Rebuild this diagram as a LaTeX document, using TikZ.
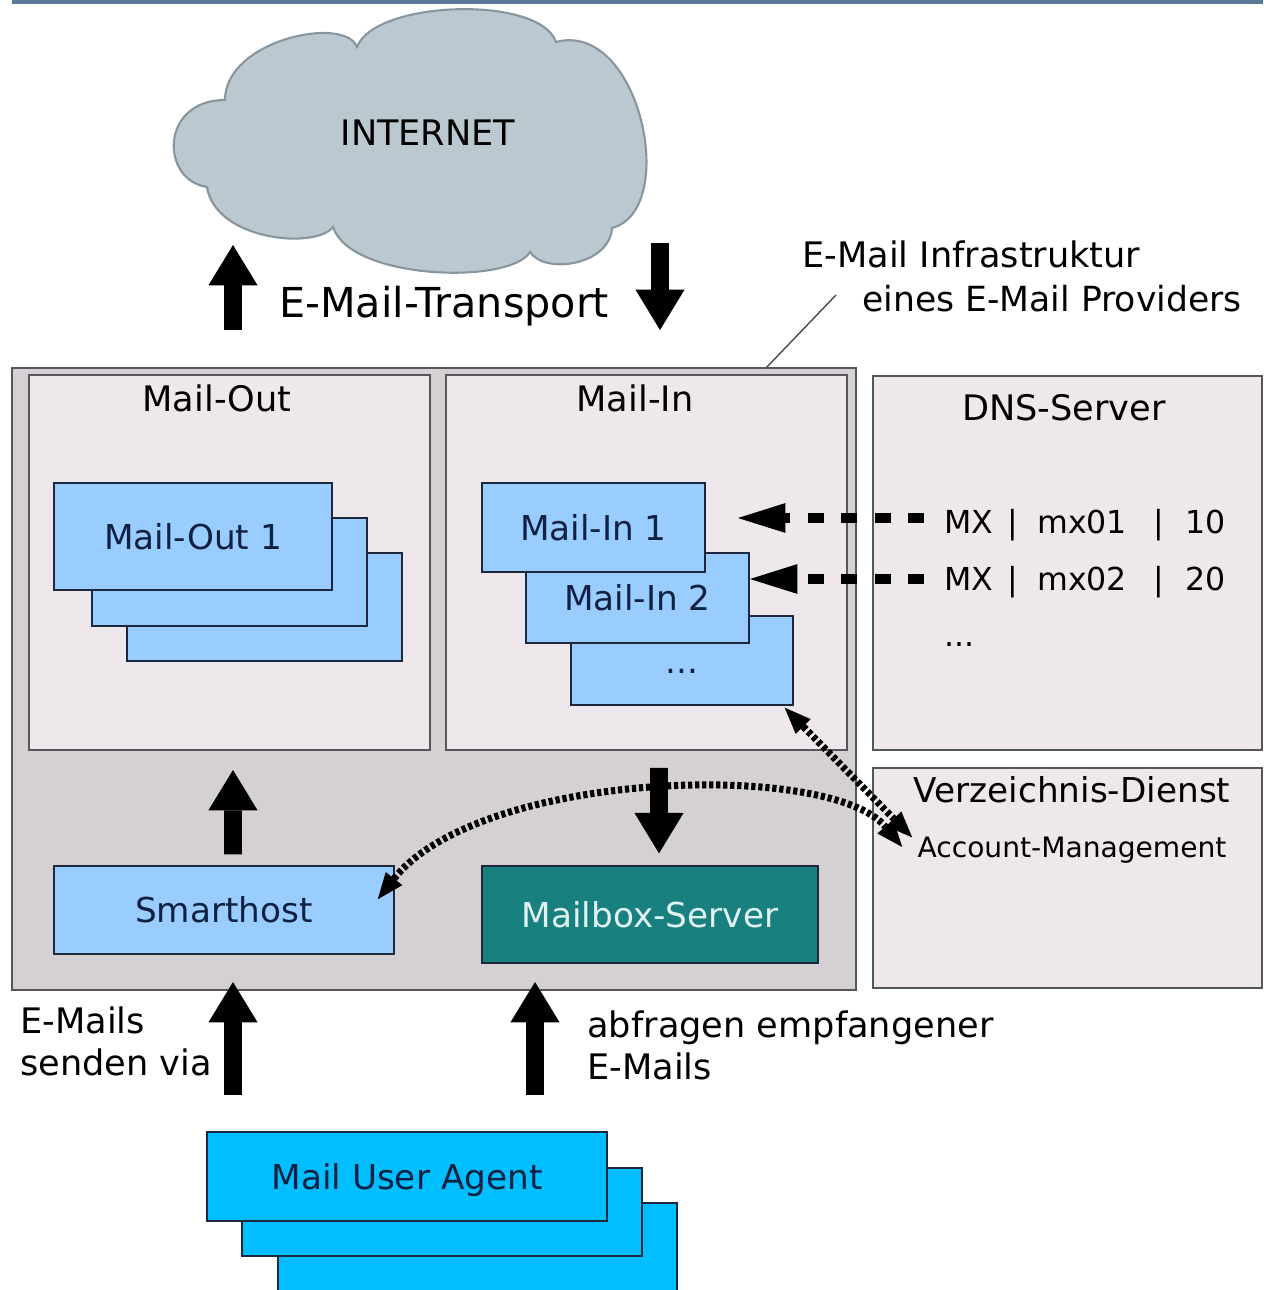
\documentclass[tikz,border=0pt]{standalone}
\usepackage{fontspec}
\setmainfont{DejaVu Sans}
\usetikzlibrary{arrows.meta}
\newlength{\px}\setlength{\px}{0.02cm}
\newcommand{\fsz}[1]{\fontsize{#1}{#1}\selectfont}
\definecolor{topbar}{RGB}{88,121,152}
\definecolor{cloudfill}{RGB}{188,200,207}
\definecolor{cloudline}{RGB}{135,150,158}
\definecolor{outergrey}{RGB}{212,208,212}
\definecolor{panelpink}{RGB}{238,231,236}
\definecolor{panelline}{RGB}{85,85,90}
\definecolor{srvblue}{RGB}{153,204,255}
\definecolor{muablue}{RGB}{0,190,255}
\definecolor{teal}{RGB}{25,128,128}
\definecolor{navytext}{RGB}{16,32,64}
\definecolor{boxline}{RGB}{30,40,60}
\begin{document}
\begin{tikzpicture}[x=0.02cm,y=-0.02cm,
  outerbox/.style={draw=panelline,line width=1.1pt,fill=outergrey,inner sep=0pt},
  panel/.style={draw=panelline,line width=1.1pt,fill=panelpink,inner sep=0pt},
  server/.style={draw=boxline,line width=0.8pt,fill=srvblue,text=navytext,inner sep=0pt,
     font=\fsz{19.5pt},text height=25\px,text depth=0pt},
  muabox/.style={server,fill=muablue},
  txt/.style={inner sep=0pt,font=\fsz{20pt},text=black},
  blockarrow/.style={line width=10pt,-{Triangle[width=28pt,length=23pt,line width=0pt 0 0]}},
  mxarrow/.style={line width=5.7pt,dash pattern=on 9pt off 10pt,
     -{Triangle[width=17pt,length=27pt,line width=0pt 0 0]}},
  dotconn/.style={line width=4pt,dash pattern=on 2.4pt off 1.6pt,
     {Triangle[width=12pt,length=15pt,line width=0pt 0 0]}-{Triangle[width=12pt,length=15pt,line width=0pt 0 0]}}
]
\useasboundingbox (0,0) rectangle (1263,1290);
% top bar
\fill[topbar] (12,0) rectangle (1263,4);
% cloud
\path[fill=cloudfill,draw=cloudline,line width=1.2pt]
  (225,100) .. controls (225,40) and (345,15) .. (357,47)
  .. controls (375,0) and (540,-5) .. (556,42)
  .. controls (640,20) and (680,210) .. (612,228)
  .. controls (610,265) and (545,275) .. (530,252)
  .. controls (510,285) and (350,280) .. (333,227)
  .. controls (315,250) and (215,240) .. (207,187)
  .. controls (160,180) and (160,100) .. (225,100) -- cycle;
\node[txt] (inet) at (428,133) {INTERNET};
% transport
\node[txt,font=\fsz{23.5pt},anchor=base west] (transport) at (279,318) {E-Mail-Transport};
\coordinate (tupfrom) at (233,330);
\coordinate (tupto) at (233,245);
\coordinate (tdnfrom) at (660,243);
\coordinate (tdnto) at (660,330);
\draw[blockarrow] (tupfrom) -- (tupto);
\draw[blockarrow] (tdnfrom) -- (tdnto);
% infrastructure label
\node[txt,anchor=base west] (infra1) at (802,268) {E-Mail Infrastruktur};
\node[txt,font=\fsz{19.7pt},anchor=base west] (infra2) at (862,312) {eines E-Mail Providers};
% outer box
\node[outerbox,minimum width=844\px,minimum height=622\px] (infra) at (434,679) {};
\coordinate (leadend) at (766,368);
\draw[black!70,line width=0.8pt] ([shift={(-26,-17)}]infra2.base west) -- (leadend);
% panels
\node[panel,minimum width=401\px,minimum height=375\px] (mailout) at (229.5,562.5) {};
\node[panel,minimum width=401\px,minimum height=375\px] (mailin) at (646.5,562.5) {};
\node[panel,minimum width=389\px,minimum height=374\px] (dns) at (1067.5,563) {};
\node[panel,minimum width=389\px,minimum height=220\px] (verz) at (1067.5,878) {};
\node[txt] (mailouthd) at (217,398) {Mail-Out};
\node[txt] (mailinhd) at (635,398) {Mail-In};
\node[txt] (dnshd) at (1064,408) {DNS-Server};
\node[txt,font=\fsz{19.5pt}] (verzhd) at (1072,790) {Verzeichnis-Dienst};
\node[txt,font=\fsz{16pt}] (acct) at (1072,850) {Account-Management};
% mail-out stack
\node[server,minimum width=275\px,minimum height=108\px] (mo3) at (264.5,607) {};
\node[server,minimum width=275\px,minimum height=108\px] (mo2) at (229.5,572) {};
\node[server,minimum width=278\px,minimum height=107\px] (mo1) at (193,536.5) {Mail-Out 1};
% mail-in stack
\node[server,minimum width=222\px,minimum height=89\px] (mi3) at (682,660.5) {...};
\node[server,minimum width=223\px,minimum height=90\px] (mi2) at (637.5,598) {Mail-In 2};
\node[server,minimum width=223\px,minimum height=89\px] (mi1) at (593.5,527.5) {Mail-In 1};
% smarthost and mailbox
\node[server,minimum width=340\px,minimum height=88\px] (smart) at (224,910) {Smarthost};
\node[server,fill=teal,text={rgb,255:red,225;green,242;blue,242},minimum width=336\px,minimum height=97\px] (mbox) at (650,914.5) {Mailbox-Server};
% inner arrows
\draw[blockarrow] ([shift={(9,-11)}]smart.north) -- ([shift={(3.5,19)}]mailout.south);
\draw[blockarrow] ([shift={(12.5,17)}]mailin.south) -- ([shift={(9,-12)}]mbox.north);
% DNS text
\node[txt,font=\fsz{18pt},anchor=base west] (mx1) at (944,533)
  {\makebox[63\px][l]{MX}\makebox[30\px][l]{|}\makebox[116\px][l]{mx01}\makebox[32\px][l]{|}10};
\node[txt,font=\fsz{18pt},anchor=base west] (mx2) at (944,590)
  {\makebox[63\px][l]{MX}\makebox[30\px][l]{|}\makebox[116\px][l]{mx02}\makebox[32\px][l]{|}20};
\node[txt,font=\fsz{18pt},anchor=base west] (mxmore) at (944,646) {...};
\coordinate (mxtip1) at (738,518);
\coordinate (mxtip2) at (750,579);
\draw[mxarrow] ([shift={(-20,-15)}]mx1.base west) -- (mxtip1);
\draw[mxarrow] ([shift={(-20,-11)}]mx2.base west) -- (mxtip2);
% dotted connectors
\draw[dotconn] ([shift={(-17,34)}]smart.north east) .. controls (480,770) and (830,760) .. ([shift={(-15,-3)}]acct.west);
\draw[dotconn] ([shift={(-9,2)}]mi3.south east) -- ([shift={(-5,1)}]acct.north west);
% bottom
\node[txt,anchor=base west] (send1) at (20,1033) {E-Mails};
\node[txt,anchor=base west] (send2) at (20,1075) {senden via};
\node[txt,anchor=base west] (abf1) at (587,1037) {abfragen empfangener};
\node[txt,anchor=base west] (abf2) at (587,1079) {E-Mails};
\coordinate (sendfrom) at (233,1095);
\coordinate (sendto) at (233,982);
\coordinate (abffrom) at (535,1095);
\coordinate (abfto) at (535,982);
\draw[blockarrow] (sendfrom) -- (sendto);
\draw[blockarrow] (abffrom) -- (abfto);
\node[muabox,minimum width=399\px,minimum height=89\px] (mua3) at (477.5,1247.5) {};
\node[muabox,minimum width=400\px,minimum height=88\px] (mua2) at (442,1212) {};
\node[muabox,minimum width=400\px,minimum height=89\px] (mua1) at (407,1176.5) {Mail User Agent};
\end{tikzpicture}
\end{document}
